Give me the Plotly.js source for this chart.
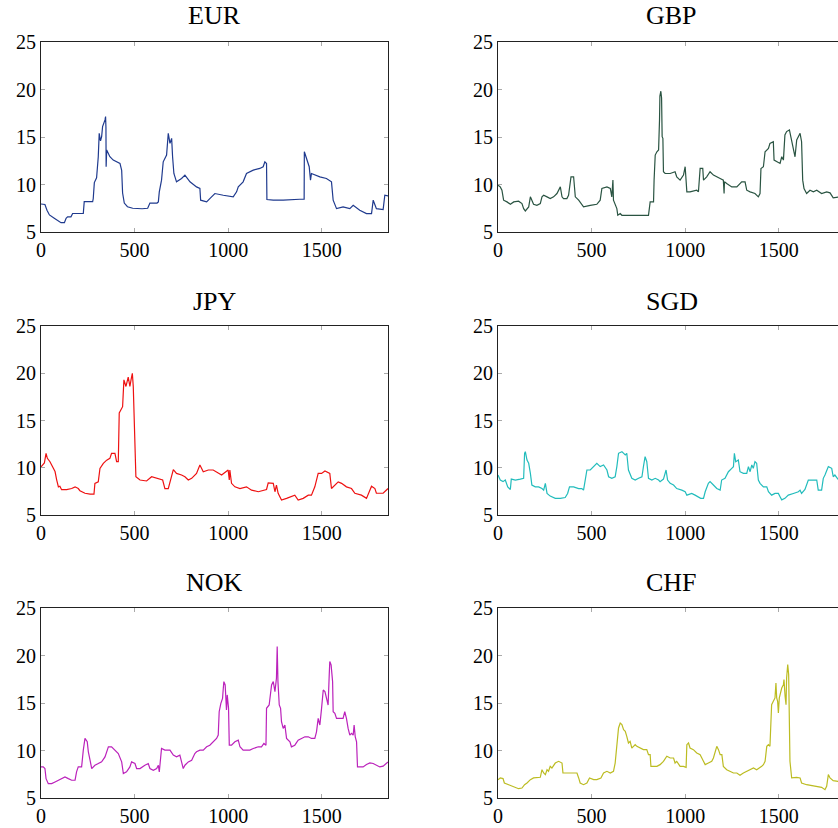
<!DOCTYPE html>
<html>
<head>
<meta charset="utf-8">
<script src="https://cdn.plot.ly/plotly-3.0.1.min.js"></script>
<style>
html,body{margin:0;padding:0;overflow:hidden;background:#fff;}
#chart{width:850px;height:828px;}
</style>
</head>
<body>
<div id="chart"></div>
<script>
// ---- data ----
const names = ["EUR", "GBP", "JPY", "SGD", "NOK", "CHF"];
const xTicks = [0, 500, 1000, 1500];
const yTicks = [5, 10, 15, 20, 25];

const eurX = [0,9,21,32,45,71,89,107,125,134,142,160,169,226,231,276,279,285,297,306,311,318,324,329,342,345,347,348,349,351,368,386,422,427,431,436,445,462,490,540,570,582,590,620,627,632,644,653,671,680,689,698,703,710,724,751,769,796,831,849,853,885,902,929,974,1027,1045,1054,1080,1098,1134,1169,1187,1196,1205,1207,1241,1294,1383,1406,1407,1419,1433,1440,1445,1490,1525,1552,1561,1579,1614,1650,1668,1703,1739,1766,1775,1792,1828,1837,1854];
const eurY = [7.95,7.95,7.9,7.3,6.8,6.45,6.2,5.98,5.98,6.45,6.6,6.6,6.95,6.95,8.2,8.2,8.5,10.2,10.7,12.92,15.39,14.6,15.04,16.09,16.8,17.15,16.0,11.87,13.8,13.63,12.92,12.57,12.22,11.51,11.5,9.1,8.05,7.66,7.5,7.45,7.5,8.05,8.05,8.05,8.17,9.23,10.46,12.39,13.1,15.39,14.33,14.86,12.92,11.16,10.28,10.63,10.99,10.28,9.75,9.58,8.35,8.17,8.52,9.05,8.87,8.7,9.23,9.75,10.28,11.16,11.51,11.69,11.87,12.39,12.2,8.42,8.35,8.35,8.45,8.45,13.45,12.7,11.87,10.46,11.16,10.8,10.63,10.28,8.35,7.46,7.64,7.46,7.81,7.29,6.94,6.94,8.35,7.46,7.36,8.87,8.8];

const gbpX = [0,12,21,30,48,66,84,110,128,137,146,164,173,181,190,208,226,235,244,262,279,297,315,333,342,350,368,377,390,404,413,431,448,457,493,528,546,555,582,600,608,614,617,626,635,640,653,662,706,804,813,831,834,840,849,858,863,865,870,874,877,881,884,893,920,946,955,973,991,1000,1009,1026,1062,1071,1080,1094,1098,1115,1133,1151,1187,1204,1208,1210,1222,1249,1276,1302,1320,1329,1347,1373,1391,1400,1405,1418,1427,1445,1453,1471,1475,1489,1507,1516,1525,1533,1542,1557,1569,1578,1587,1596,1614,1622,1628,1635,1649,1667,1685,1703,1729,1756,1774,1791,1816,1854];
const gbpY = [9.93,9.75,9.4,8.35,8.17,7.92,8.17,8.24,7.99,7.46,7.22,7.64,8.7,8.35,7.92,7.81,7.99,8.7,8.87,8.7,8.52,8.7,9.05,9.75,8.7,8.52,8.52,8.87,10.81,10.81,8.7,8.35,7.81,7.64,7.81,7.92,8.35,9.58,9.75,9.58,8.7,10.46,8.35,7.99,7.46,6.76,6.94,6.76,6.76,6.76,8.17,8.17,10.46,13.1,13.45,13.63,16.8,19.3,19.82,19.1,15.04,14.86,11.34,11.16,11.16,11.34,10.81,10.46,10.99,11.87,9.23,9.23,9.4,9.23,11.69,11.69,10.46,10.81,11.34,10.99,10.63,10.46,9.05,10.28,10.1,9.75,9.75,10.28,10.28,9.4,9.23,9.05,8.7,9.05,11.69,11.87,13.45,13.8,14.33,14.5,12.57,12.39,12.22,12.92,12.57,15.21,15.57,15.74,14.68,13.98,12.92,14.68,15.39,14.5,10.46,9.58,9.05,9.4,9.23,9.4,9.05,9.23,9.12,8.6,8.65,8.8];

const jpyX = [0,9,18,27,34,48,57,66,75,84,93,101,110,137,164,182,199,208,235,262,283,288,306,315,333,351,368,377,395,404,413,418,425,436,443,454,466,475,481,488,493,498,504,507,529,564,591,627,650,662,680,707,724,751,769,787,805,831,849,867,894,920,947,965,1000,1006,1009,1018,1036,1063,1098,1125,1161,1187,1205,1214,1241,1250,1258,1267,1285,1312,1339,1356,1374,1401,1428,1445,1463,1481,1499,1517,1543,1552,1588,1606,1632,1659,1677,1712,1739,1757,1766,1784,1792,1828,1846,1854];
const jpyY = [10.1,10.3,10.5,11.53,11.0,10.64,10.3,9.8,9.6,8.7,7.98,8.05,7.68,7.68,7.8,7.98,7.8,7.57,7.3,7.2,7.2,8.35,8.5,9.92,10.46,10.8,10.99,11.53,11.53,10.64,10.64,15.8,16.1,16.46,19.3,18.6,19.6,18.6,19.3,20.0,18.6,14.7,10.8,9.05,8.7,8.6,9.05,8.88,8.7,7.8,7.8,9.8,9.4,9.23,9.05,8.7,8.88,9.4,10.29,9.58,9.76,9.76,9.4,9.23,9.76,8.7,9.76,8.35,7.98,7.8,7.98,7.63,7.46,7.63,7.7,8.4,8.35,7.46,8.17,7.3,6.58,6.76,7.0,7.1,6.58,6.76,7.1,7.1,7.98,9.4,9.4,9.65,9.4,7.8,8.5,8.35,7.98,7.8,7.3,7.1,6.76,7.63,8.05,7.8,7.3,7.3,7.63,7.8];

const sgdX = [0,12,27,39,52,66,71,93,119,137,142,146,155,164,173,181,199,217,235,244,253,262,279,306,333,359,372,382,404,431,448,457,466,475,493,511,528,546,564,582,591,608,626,635,644,662,680,688,697,715,733,751,769,777,786,795,804,822,840,858,866,884,898,906,920,938,955,982,1000,1009,1035,1053,1071,1083,1098,1107,1124,1133,1151,1169,1187,1195,1213,1231,1249,1258,1263,1270,1284,1293,1311,1329,1338,1347,1356,1364,1373,1382,1391,1400,1418,1436,1445,1462,1480,1498,1507,1516,1533,1551,1578,1605,1614,1622,1640,1658,1703,1711,1729,1738,1747,1765,1783,1791,1800,1816,1854];
const sgdY = [9.23,8.7,8.53,8.7,7.98,7.7,8.8,8.7,8.8,8.88,11.53,11.7,10.82,10.47,9.41,8.17,7.98,7.98,7.8,7.63,8.35,7.28,7.0,6.76,6.76,6.85,7.28,7.98,7.98,7.8,7.8,7.63,8.7,9.76,9.76,10.12,10.47,10.12,10.29,9.76,9.05,8.88,9.05,10.12,11.53,11.7,11.35,11.53,9.76,8.88,8.7,8.88,9.05,10.12,11.17,10.64,8.88,8.7,8.88,8.7,8.53,8.8,9.76,8.7,8.35,8.17,7.8,7.63,7.46,7.1,7.28,7.1,6.94,6.76,6.76,7.46,8.35,8.53,8.17,7.8,7.63,8.7,8.88,9.58,9.94,10.12,11.53,10.64,10.82,9.58,9.41,9.41,10.12,9.58,10.29,9.94,10.64,10.47,8.7,8.35,7.98,7.98,7.46,7.1,7.28,7.28,6.94,6.6,6.76,7.1,7.28,7.46,7.63,7.28,7.7,8.7,8.7,7.63,7.63,8.88,9.23,10.12,9.94,9.05,9.23,8.8,9.0];

const nokX = [0,12,21,27,39,57,75,93,110,128,146,164,182,190,199,217,226,235,247,253,262,271,288,306,324,342,360,377,395,413,431,440,457,475,484,502,511,529,555,573,582,600,618,627,632,644,662,689,707,724,742,751,760,769,787,805,822,831,849,867,885,902,920,938,947,952,961,970,974,977,984,988,991,995,1002,1006,1018,1036,1054,1063,1080,1098,1116,1134,1161,1178,1191,1202,1205,1219,1232,1241,1250,1258,1262,1266,1273,1280,1285,1294,1303,1312,1330,1338,1356,1374,1392,1410,1428,1445,1463,1472,1481,1490,1499,1508,1517,1525,1534,1540,1543,1550,1558,1561,1570,1579,1597,1614,1623,1632,1641,1650,1659,1668,1673,1679,1686,1691,1703,1721,1739,1757,1775,1792,1810,1828,1846,1854];
const nokY = [8.27,8.27,8.1,7.04,6.51,6.51,6.69,6.87,7.04,7.22,7.04,6.87,6.87,7.75,8.27,8.27,10.04,11.27,10.92,9.86,8.98,8.1,8.45,8.63,8.8,9.33,10.39,10.39,10.04,9.68,8.8,7.57,7.75,8.27,8.8,8.63,8.1,8.1,8.45,8.63,8.1,7.92,8.1,8.45,7.75,10.21,10.04,10.04,9.51,9.33,9.51,8.8,8.1,8.45,8.8,8.98,9.68,9.86,10.04,10.04,10.39,10.56,10.92,11.27,11.62,14.08,14.96,15.49,16.55,17.25,16.9,14.79,14.26,15.85,14.44,10.56,10.56,10.92,11.09,10.39,10.04,10.04,10.04,10.21,10.39,10.39,10.74,10.56,14.44,14.79,16.9,17.25,16.2,17.61,20.95,17.25,14.79,14.44,13.03,12.32,12.68,11.27,10.92,10.39,10.56,11.09,11.27,11.44,11.44,11.27,11.27,11.97,13.38,12.68,14.44,16.37,16.2,15.49,14.79,17.96,19.37,19.01,17.25,14.08,13.91,13.38,13.38,13.38,14.08,13.38,12.32,11.62,11.8,11.62,12.68,11.44,10.92,8.27,8.27,8.27,8.52,8.7,8.63,8.45,8.27,8.35,8.63,8.8];

const chfX = [0,12,27,34,57,75,93,110,128,142,155,173,190,217,226,235,244,253,262,270,279,288,306,324,342,347,368,404,422,431,439,457,475,489,511,528,550,564,582,600,617,626,635,644,653,662,671,680,688,697,706,715,724,733,742,760,777,795,804,813,817,831,849,866,884,902,920,938,946,955,964,973,991,1005,1009,1018,1026,1044,1062,1080,1089,1098,1107,1124,1142,1151,1160,1169,1178,1187,1196,1204,1222,1240,1258,1276,1293,1311,1329,1347,1365,1382,1400,1409,1418,1427,1436,1445,1453,1457,1462,1471,1480,1485,1489,1494,1498,1503,1507,1516,1525,1528,1534,1539,1542,1548,1553,1557,1560,1569,1596,1614,1622,1649,1676,1703,1729,1747,1756,1765,1774,1791,1816,1854];
const chfY = [6.93,7.11,7.04,6.58,6.4,6.23,6.12,5.98,6.05,6.4,6.58,6.93,7.11,7.11,7.18,7.98,7.63,7.46,7.98,7.81,8.33,8.16,8.68,8.86,8.68,7.63,7.63,7.63,7.63,7.11,6.58,6.4,6.58,7.11,6.93,6.93,7.11,7.63,7.81,7.63,7.81,8.68,10.26,12.37,12.89,12.72,12.19,12.02,11.49,10.79,10.96,10.26,10.44,10.61,10.44,10.26,10.09,10.09,9.56,9.56,8.33,8.33,8.33,8.51,8.86,9.39,9.21,9.21,8.68,8.86,8.51,8.33,8.33,8.23,10.61,10.79,10.26,10.09,9.74,9.56,9.21,8.86,8.51,8.68,8.86,9.21,9.91,10.44,10.09,9.56,9.56,8.33,7.98,7.81,7.63,7.63,7.39,7.63,7.81,7.98,8.16,7.98,8.16,8.33,8.51,8.86,10.44,10.61,10.44,13.95,14.82,15.18,15.53,17.11,15.53,15.18,13.95,15.53,15.88,16.58,16.93,17.46,15.7,14.82,17.63,19.04,18.0,9.91,8.86,7.11,7.18,7.11,6.58,6.4,6.33,6.23,6.12,5.88,6.23,7.46,7.11,6.82,6.75,6.8];

const colors = ["#1f3a8e", "#2a5442", "#ee1111", "#22bcbc", "#bb22bb", "#bcbc22"];

// ---- layout geometry (pixels) ----
const W = 850, H = 828;
const colPx = [[41, 388], [498, 845]];
const rowPx = [[42, 232], [326, 515], [608, 798]];
const titleY = [16, 301, 582];

const xs = [eurX, gbpX, jpyX, sgdX, nokX, chfX];
const ys = [eurY, gbpY, jpyY, sgdY, nokY, chfY];

const serif = "'Liberation Serif', 'Times New Roman', serif";
const traces = [];
const layout = {
  width: W, height: H,
  margin: {l: 0, r: 0, t: 0, b: 0},
  paper_bgcolor: "#fff", plot_bgcolor: "#fff",
  showlegend: false,
  font: {family: serif, size: 20, color: "#000"},
  annotations: []
};

for (let i = 0; i < 6; i++) {
  const r = Math.floor(i / 2), c = i % 2;
  const sfx = i === 0 ? "" : String(i + 1);
  traces.push({
    x: xs[i], y: ys[i], type: "scatter", mode: "lines",
    line: {color: colors[i], width: 1.2},
    xaxis: "x" + sfx, yaxis: "y" + sfx, hoverinfo: "skip"
  });
  const common = {
    showgrid: false, zeroline: false, showline: true, mirror: "ticks",
    linecolor: "#222", linewidth: 1,
    ticks: "inside", ticklen: 4, tickcolor: "#aaa", tickwidth: 1,
    tickfont: {family: serif, size: 20, color: "#000"}, fixedrange: true
  };
  layout["xaxis" + sfx] = Object.assign({}, common, {
    domain: [colPx[c][0] / W, colPx[c][1] / W],
    range: [0, 1854], tickmode: "array", tickvals: xTicks,
    ticktext: xTicks.map(String), anchor: "y" + sfx
  });
  layout["yaxis" + sfx] = Object.assign({}, common, {
    domain: [1 - rowPx[r][1] / H, 1 - rowPx[r][0] / H],
    range: [5, 25], tickmode: "array", tickvals: yTicks,
    ticktext: yTicks.map(String), anchor: "x" + sfx
  });
  layout.annotations.push({
    text: names[i], showarrow: false,
    xref: "paper", yref: "paper",
    x: (colPx[c][0] + colPx[c][1]) / 2 / W, y: 1 - titleY[r] / H,
    xanchor: "center", yanchor: "middle",
    font: {family: serif, size: 26, color: "#000"}
  });
}

Plotly.newPlot("chart", traces, layout, {staticPlot: true, displayModeBar: false});
</script>
</body>
</html>
